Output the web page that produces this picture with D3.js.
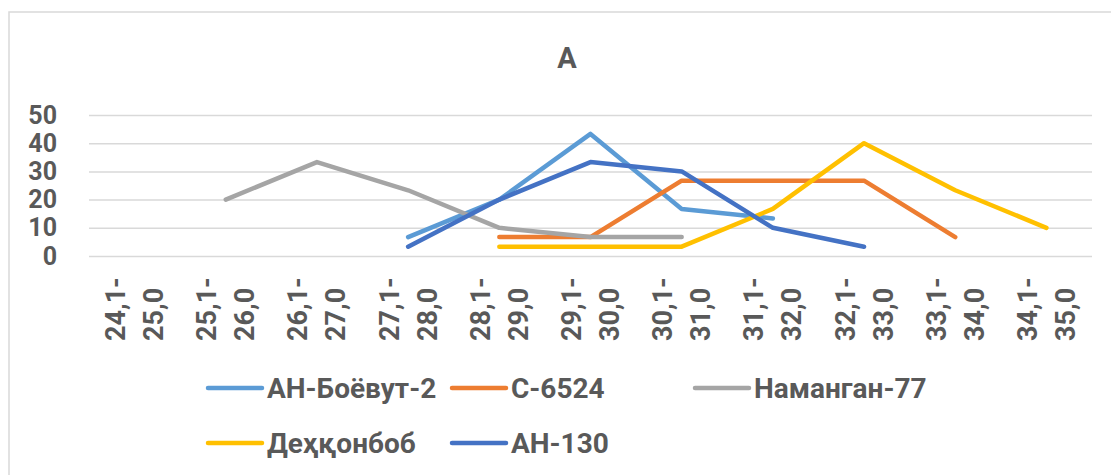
<!DOCTYPE html>
<html>
<head>
<meta charset="utf-8">
<script src="https://cdnjs.cloudflare.com/ajax/libs/d3/7.8.5/d3.min.js"></script>
<style>
  body { margin: 0; background: #fff; }
  text { font-family: Roboto, "Noto Sans", sans-serif; font-weight: bold; fill: #595959; }
</style>
</head>
<body>
<div id="chart"></div>
<script>
// categories (two-line labels) and series values
var catTop = ["24,1-", "25,1-", "26,1-", "27,1-", "28,1-", "29,1-", "30,1-", "31,1-", "32,1-", "33,1-", "34,1-"];
var catBottom = ["25,0", "26,0", "27,0", "28,0", "29,0", "30,0", "31,0", "32,0", "33,0", "34,0", "35,0"];
var seriesNames = ["АН-Боёвут-2", "С-6524", "Наманган-77", "Деҳқонбоб", "АН-130"];
var seriesColors = ["#5B9BD5", "#ED7D31", "#A5A5A5", "#FFC000", "#4472C4"];
var boyovut = [null, null, null, 6.7, 20, 43.3, 16.7, 13.3, null, null, null];
var s6524 = [null, null, null, null, 6.7, 6.7, 26.7, 26.7, 26.7, 6.7, null];
var namangan = [null, 20, 33.3, 23.3, 10, 6.7, 6.7, null, null, null, null];
var dehqonbob = [null, null, null, null, 3.3, 3.3, 3.3, 16.7, 40, 23.3, 10];
var an130 = [null, null, null, 3.3, 20, 33.3, 30, 10, 3.3, null, null];
var yTicks = [0, 10, 20, 30, 40, 50];
var title = "A";

var allSeries = [boyovut, s6524, namangan, dehqonbob, an130];

var W = 1111, H = 475;
var margin = {top: 115, right: 19, bottom: 219, left: 89},
    width = W - margin.left - margin.right,
    height = H - margin.top - margin.bottom;

var svg = d3.select("#chart")
  .append("svg")
    .attr("width", W)
    .attr("height", H);

// chart frame
svg.append("rect")
  .attr("x", 9).attr("y", 12)
  .attr("width", W + 20).attr("height", H + 20)
  .attr("fill", "none")
  .attr("stroke", "#d9d9d9")
  .attr("stroke-width", 1.5);

svg.append("text")
  .attr("x", 567).attr("y", 68)
  .attr("text-anchor", "middle")
  .style("font-size", "29px")
  .text(title);

var g = svg.append("g")
  .attr("transform", "translate(" + margin.left + "," + margin.top + ")");

var x = d3.scaleBand()
  .domain(d3.range(catTop.length))
  .range([0, width]);

var y = d3.scaleLinear()
  .domain([0, 50])
  .range([height, 0]);

// gridlines
g.append("g")
  .call(d3.axisLeft(y).tickValues(yTicks).tickSize(-width).tickFormat(""))
  .call(a => a.select(".domain").remove())
  .selectAll("line")
    .attr("stroke", "#d9d9d9")
    .attr("stroke-width", 1.5);

// y labels
g.append("g")
  .call(d3.axisLeft(y).tickValues(yTicks).tickSize(0).tickPadding(32))
  .call(a => a.select(".domain").remove())
  .selectAll("text")
    .style("font-size", "25px")
    .attr("fill", "#595959")
    .style("font-family", "Roboto, sans-serif");

// x labels, rotated, two lines each
var xl = g.append("g").selectAll("g")
  .data(catTop)
  .enter()
  .append("g")
    .attr("transform", (d, i) => "translate(" + (x(i) + x.bandwidth() / 2) + "," + (height + 85) + ")rotate(-90)");
xl.append("text")
  .attr("x", 0).attr("y", -9.5)
  .style("font-size", "27px")
  .text(d => d);
xl.append("text")
  .attr("x", 0).attr("y", 28.5)
  .style("font-size", "27px")
  .text((d, i) => catBottom[i]);

// lines
var line = d3.line()
  .defined(d => d != null)
  .x((d, i) => x(i) + x.bandwidth() / 2)
  .y(d => y(d));

g.selectAll("path.series")
  .data(allSeries)
  .enter()
  .append("path")
    .attr("class", "series")
    .attr("d", line)
    .attr("fill", "none")
    .attr("stroke", (d, i) => seriesColors[i])
    .attr("stroke-width", 4.5)
    .attr("stroke-linecap", "round")
    .attr("stroke-linejoin", "round");

// legend
var legendPos = [[208, 388], [452, 388], [695, 388], [208, 443], [452, 443]];
var lg = svg.append("g").selectAll("g")
  .data(seriesNames)
  .enter()
  .append("g")
    .attr("transform", (d, i) => "translate(" + legendPos[i][0] + "," + legendPos[i][1] + ")");
lg.append("line")
  .attr("x1", 0).attr("x2", 54)
  .attr("stroke", (d, i) => seriesColors[i])
  .attr("stroke-width", 4.5)
  .attr("stroke-linecap", "round");
lg.append("text")
  .attr("x", 59).attr("y", 10)
  .style("font-size", "28px")
  .text(d => d);
</script>
</body>
</html>
